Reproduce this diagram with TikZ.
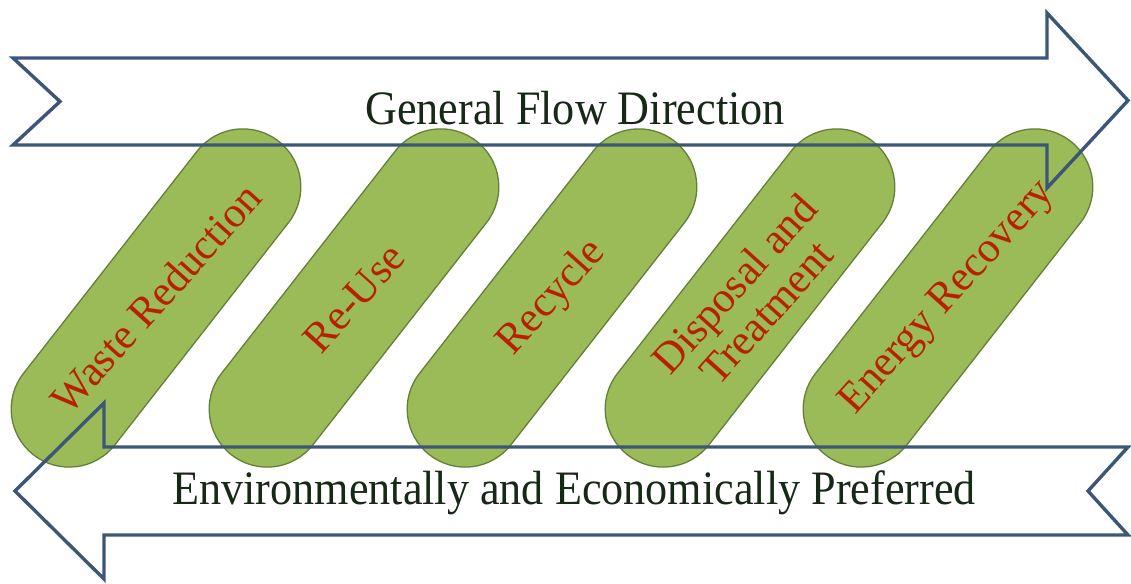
\documentclass[tikz,border=0pt]{standalone}
\usepackage{fontspec}
\setmainfont{Liberation Serif}
\usetikzlibrary{shapes.misc}
\definecolor{pillfill}{RGB}{155,187,89}
\definecolor{pilldraw}{RGB}{100,128,56}
\definecolor{arrowline}{RGB}{60,86,120}
\definecolor{pilltext}{RGB}{185,30,0}
\definecolor{bandtext}{RGB}{22,40,22}
\tikzset{
  pill/.style={rounded rectangle, draw=pilldraw, fill=pillfill, line width=1.3pt,
    minimum width=398pt, minimum height=116pt, inner sep=0pt, rotate=52},
  pilllabel/.style={text=pilltext, font=\fontsize{43}{43}\selectfont, rotate=48,
    align=center, inner sep=0pt},
  bigarrow/.style={draw=arrowline, line width=3.4pt, line join=miter},
  bandlabel/.style={text=bandtext, font=\fontsize{48}{50}\selectfont, xscale=0.92,
    inner sep=0pt, anchor=base}
}
\begin{document}
\begin{tikzpicture}[x=1pt,y=1pt]
\useasboundingbox (0,0) rectangle (1131,583);
\fill[white] (0,0) rectangle (1131,583);
% pills
\node[pill] (p1) at (156,285) {};
\node[pill] (p2) at (354,285) {};
\node[pill] (p3) at (552,285) {};
\node[pill] (p4) at (750,285) {};
\node[pill] (p5) at (948,285) {};
% top arrow (pointing right)
\draw[bigarrow] (13,525) -- (1047,525) -- (1047,570) -- (1128,482.5) -- (1047,395)
  -- (1047,438) -- (13,438) -- (60,481.5) -- cycle;
% bottom arrow (pointing left)
\draw[bigarrow] (15,92) -- (104,180) -- (104,136) -- (1128,136) -- (1088,92)
  -- (1128,48) -- (104,48) -- (104,4) -- cycle;
% labels
\node[pilllabel] (t1) at (p1.center) {Waste Reduction};
\node[pilllabel] (t2) at (p2.center) {Re-Use};
\node[pilllabel] (t3) at (p3.center) {Recycle};
\node[pilllabel] (t4) at (p4.center) {Disposal and\\Treatment};
\node[pilllabel] (t5) at (p5.center) {Energy Recovery};
\node[bandlabel] (gfd) at (575,458) {General Flow Direction};
\node[bandlabel] (eep) at (574,78) {Environmentally and Economically Preferred};
\end{tikzpicture}
\end{document}
